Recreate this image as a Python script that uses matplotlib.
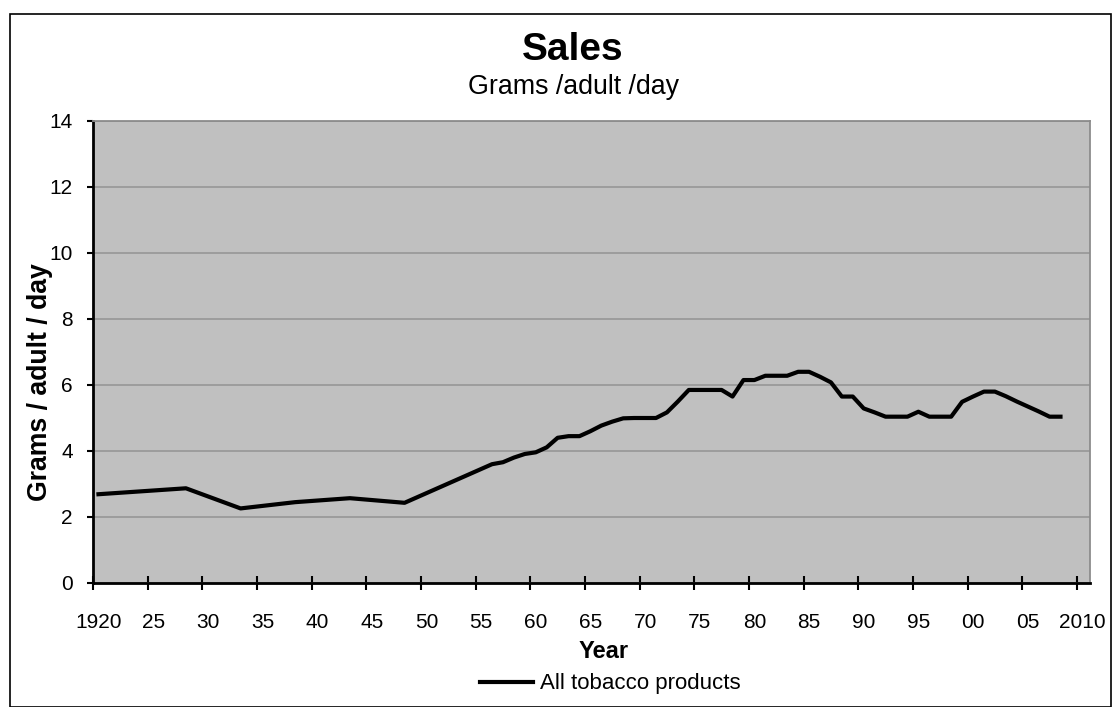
import matplotlib
matplotlib.use("Agg")
import matplotlib.pyplot as plt
from matplotlib.patches import Rectangle

plt.rcParams['font.family'] = ['Liberation Sans', 'DejaVu Sans']

years = [1920, 1928, 1933, 1938, 1943, 1948,
         1956, 1957, 1958, 1959, 1960, 1961, 1962, 1963, 1964, 1965,
         1966, 1967, 1968, 1969, 1970, 1971, 1972, 1973, 1974, 1975,
         1976, 1977, 1978, 1979, 1980, 1981, 1982, 1983, 1984, 1985,
         1986, 1987, 1988, 1989, 1990, 1991, 1992, 1993, 1994, 1995,
         1996, 1997, 1998, 1999, 2000, 2001, 2002, 2003, 2004, 2005,
         2006, 2007, 2008]
values = [2.69, 2.87, 2.26, 2.45, 2.57, 2.43,
          3.60, 3.66, 3.80, 3.91, 3.96, 4.11, 4.40, 4.45, 4.45, 4.60,
          4.77, 4.89, 4.99, 5.00, 5.00, 5.00, 5.17, 5.50, 5.85, 5.85,
          5.85, 5.85, 5.65, 6.15, 6.15, 6.28, 6.28, 6.28, 6.40, 6.40,
          6.25, 6.08, 5.65, 5.65, 5.29, 5.17, 5.04, 5.04, 5.04, 5.19,
          5.04, 5.04, 5.04, 5.49, 5.65, 5.80, 5.80, 5.66, 5.50, 5.35,
          5.20, 5.04, 5.04]
tick_years = list(range(1920, 2011, 5))
tick_labels = ["1920", "25", "30", "35", "40", "45", "50", "55", "60", "65",
               "70", "75", "80", "85", "90", "95", "00", "05", "2010"]
y_ticks = [0, 2, 4, 6, 8, 10, 12, 14]
series_name = "All tobacco products"

W, H = 1112, 707
fig = plt.figure(figsize=(W / 100, H / 100), dpi=100)

# outer chart border
fig.patches.append(Rectangle((10 / W, 0), (W - 11) / W, (H - 14) / H,
                             transform=fig.transFigure, fill=False,
                             edgecolor='black', linewidth=1.2))

ax = fig.add_axes([93 / W, (H - 583) / H, (1090 - 93) / W, (583 - 121) / H])
ax.set_facecolor('#C0C0C0')

# points sit at the centre of each year's category
xs = [y + 0.5 for y in years]
ax.plot(xs, values, color='black', linewidth=3, solid_joinstyle='round',
        label=series_name)

ax.set_xlim(1920, 2011.2)
ax.set_ylim(0, 14)
ax.set_yticks(y_ticks)
ax.yaxis.grid(True, color='#9A9A9A', linewidth=1.3)
ax.set_axisbelow(True)

ax.set_xticks(tick_years)
ax.set_xticklabels([])
ax.set_xticks([t + 0.5 for t in tick_years], minor=True)
ax.set_xticklabels(tick_labels, minor=True)
ax.tick_params(axis='x', which='major', direction='inout', length=10,
               width=1.5, color='black')
ax.tick_params(axis='x', which='minor', length=0, pad=21.5, labelsize=15)
ax.tick_params(axis='y', direction='out', length=4.5, width=1.5,
               labelsize=15, pad=10)

for side in ['left', 'bottom']:
    ax.spines[side].set_color('black')
    ax.spines[side].set_linewidth(2)
for side in ['top', 'right']:
    ax.spines[side].set_color('#8C8C8C')
    ax.spines[side].set_linewidth(1.3)

fig.text(573 / W, 1 - 50 / H, "Sales", ha='center', va='center',
         fontsize=28, fontweight='bold')
fig.text(573 / W, 1 - 87 / H, "Grams /adult /day", ha='center', va='center',
         fontsize=19.3)
fig.text(40 / W, 1 - 382 / H, "Grams / adult / day", ha='center', va='center',
         rotation=90, fontsize=19.2, fontweight='bold')
fig.text(604 / W, 1 - 651 / H, "Year", ha='center', va='center',
         fontsize=17, fontweight='bold')

fig.legend(loc='center', bbox_to_anchor=(610 / W, 1 - 684 / H),
           frameon=False, fontsize=16, handlelength=2.4, handletextpad=0.3)

fig.savefig("out.png", dpi=100)
